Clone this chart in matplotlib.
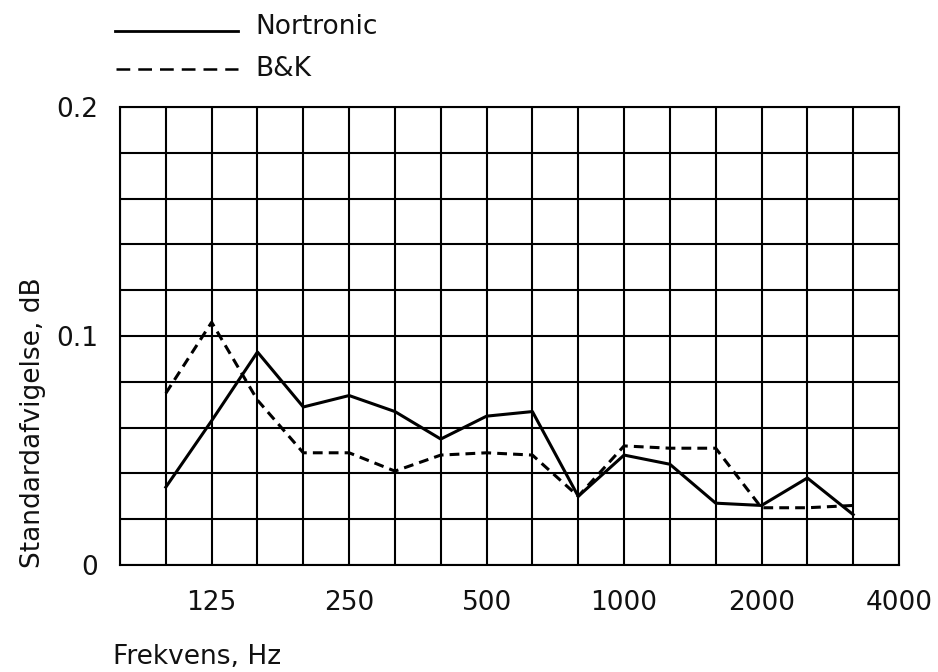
import matplotlib
matplotlib.use("Agg")
import matplotlib.pyplot as plt
from matplotlib.lines import Line2D
import numpy as np

# Third-octave band centre frequencies, Hz
bands = [100, 125, 160, 200, 250, 315, 400, 500, 630, 800,
         1000, 1250, 1600, 2000, 2500, 3150]
# Grid columns run from 80 Hz to 4000 Hz
all_bands = [80] + bands + [4000]
tick_labels = ["125", "250", "500", "1000", "2000", "4000"]

nortronic = [0.034, 0.063, 0.093, 0.069, 0.074, 0.067, 0.055, 0.065,
             0.067, 0.030, 0.048, 0.044, 0.027, 0.026, 0.038, 0.022]
bk = [0.075, 0.106, 0.072, 0.049, 0.049, 0.041, 0.048, 0.049,
      0.048, 0.030, 0.052, 0.051, 0.051, 0.025, 0.025, 0.026]

plt.rcParams["font.family"] = ["DejaVu Sans"]
FS = 19
TXT = "#111111"

fig = plt.figure(figsize=(9.38, 6.72), dpi=100)
ax = fig.add_axes([120 / 938, 1 - 565 / 672, (899 - 120) / 938, (565 - 107) / 672])

pos = {f: i for i, f in enumerate(all_bands)}
xs = [pos[f] for f in bands]

ax.plot(xs, nortronic, color="black", lw=2.2)
ax.plot(xs, bk, color="black", lw=2.2, linestyle=(0, (3.2, 2.0)))

ax.set_xlim(0, len(all_bands) - 1)
ax.set_ylim(0, 0.2)

# square grid: one column per band, 0.02 per row
ax.set_xticks(range(len(all_bands)), minor=True)
ax.set_yticks(np.arange(0, 0.2001, 0.02), minor=True)
ax.grid(which="both", color="black", lw=1.5)
ax.set_axisbelow(True)
for s in ax.spines.values():
    s.set_linewidth(1.5)

ax.set_xticks([pos[int(t)] for t in tick_labels])
ax.set_xticklabels(tick_labels)
ax.set_yticks([0, 0.1, 0.2])
ax.set_yticklabels(["0", "0.1", "0.2"])
ax.tick_params(which="both", length=0, labelsize=FS, colors=TXT)
ax.tick_params(axis="x", pad=18)
ax.tick_params(axis="y", pad=16)

fig.text(33 / 938, 1 - 423 / 672, "Standardafvigelse, dB", rotation=90,
         ha="center", va="center", fontsize=FS, color=TXT)
fig.text(113 / 938, 1 - 657 / 672, "Frekvens, Hz", ha="left", va="center",
         fontsize=FS, color=TXT)

# key above the plot
fig.add_artist(Line2D([115 / 938, 238 / 938], [1 - 31 / 672, 1 - 31 / 672],
                      color="black", lw=2.0))
fig.add_artist(Line2D([116 / 938, 238 / 938], [1 - 69 / 672, 1 - 69 / 672],
                      color="black", lw=1.8, linestyle=(0, (5.5, 3.2))))
fig.text(255 / 938, 1 - 27 / 672, "Nortronic", ha="left", va="center",
         fontsize=FS, color=TXT)
fig.text(255 / 938, 1 - 69 / 672, "B&K", ha="left", va="center",
         fontsize=FS, color=TXT)

fig.savefig("out.png", dpi=100, facecolor="white")
